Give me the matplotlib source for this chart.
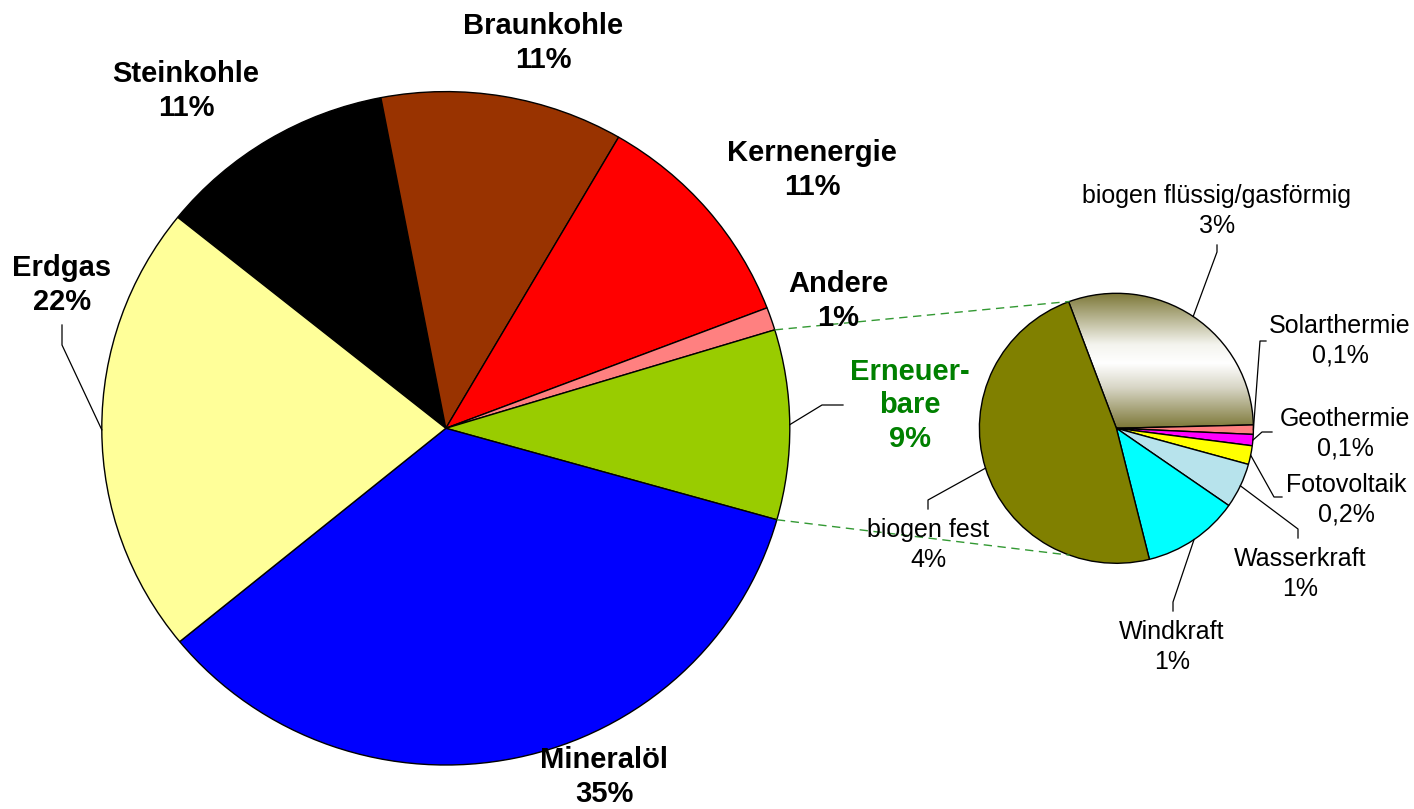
import numpy as np
import matplotlib.pyplot as plt
from matplotlib.colors import LinearSegmentedColormap

plt.rcParams["font.family"] = ["Liberation Sans", "DejaVu Sans"]

# main pie: primary energy consumption shares (%)
main_names = ["Steinkohle", "Braunkohle", "Kernenergie", "Andere", "Erneuerbare", "Mineralöl", "Erdgas"]
main_values = [11.2, 11.4, 10.8, 1.1, 9.1, 34.7, 21.7]
main_colors = ["#000000", "#993300", "#FF0000", "#FF8080", "#99CC00", "#0000FF", "#FFFF99"]

# secondary pie: breakdown of the renewables (%)
sub_names = ["biogen flüssig/gasförmig", "Solarthermie", "Geothermie", "Fotovoltaik",
             "Wasserkraft", "Windkraft", "biogen fest"]
sub_values = [2.7, 0.1, 0.12, 0.2, 0.48, 1.02, 4.3]
sub_pct = ["3%", "0,1%", "0,1%", "0,2%", "1%", "1%", "4%"]
sub_colors = ["#808000", "#FF8080", "#FF00FF", "#FFFF00", "#B7E3EC", "#00FFFF", "#808000"]

W, H = 1414, 809
fig = plt.figure(figsize=(W / 100, H / 100), dpi=100)

big_c, big_r = (445.8, 428.3), (344, 336.7)
sml_c, sml_r = (1116.4, 428.3), (137, 135)


def pie_axes(c, r):
    ax = fig.add_axes([(c[0] - r[0]) / W, (H - c[1] - r[1]) / H, 2 * r[0] / W, 2 * r[1] / H])
    return ax


def to_px(c, r, ang, k=1.0):
    a = np.deg2rad(ang)
    return c[0] + k * r[0] * np.cos(a), c[1] - k * r[1] * np.sin(a)


ax1 = pie_axes(big_c, big_r)
w1, _ = ax1.pie(main_values, colors=main_colors, startangle=141.2, counterclock=False,
                radius=1, wedgeprops=dict(edgecolor="black", linewidth=1))
ax1.set_aspect("auto")
ax1.set_xlim(-1, 1)
ax1.set_ylim(-1, 1)
ax1.axis("off")

ax2 = pie_axes(sml_c, sml_r)
w2, _ = ax2.pie(sub_values, colors=sub_colors, startangle=110.4, counterclock=False,
                radius=1, wedgeprops=dict(edgecolor="black", linewidth=1))
ax2.set_aspect("auto")
# gradient fill for biogen fluessig/gasfoermig
w2[0].set_facecolor("none")
cmap = LinearSegmentedColormap.from_list("olv", [(0, "#7d7838"), (0.3, "#d8d6c6"), (0.48, "#ffffff"),
                                                 (0.62, "#f4f4ee"), (1, "#7d7838")])
grad = np.linspace(0, 1, 256).reshape(-1, 1)
im = ax2.imshow(grad, cmap=cmap, extent=[-1, 1, 0, 1], origin="lower", aspect="auto", zorder=0)
im.set_clip_path(w2[0])
ax2.set_xlim(-1, 1)
ax2.set_ylim(-1, 1)
ax2.axis("off")

ov = fig.add_axes([0, 0, 1, 1])
ov.set_xlim(0, W)
ov.set_ylim(H, 0)
ov.axis("off")

# series lines between the renewables slice and the small pie
ern = w1[4]
for a_big, a_sml in [(ern.theta2, 110), (ern.theta1, 250)]:
    x0, y0 = to_px(big_c, big_r, a_big)
    x1, y1 = to_px(sml_c, sml_r, a_sml)
    ov.plot([x0, x1], [y0, y1], color="#339933", lw=1, ls=(0, (6, 4)))

# main labels: text position and optional leader elbow
main_pos = [(186, 91), (543, 43), (812, 170), (838, 301), (910, 405), (604, 777), (62, 285)]
main_elbow = {6: [(62, 345), (62, 325)], 4: [(822, 405), (843, 405)]}
for i, (name, v) in enumerate(zip(main_names, main_values)):
    txt = "Erneuer-\nbare\n9%" if name == "Erneuerbare" else f"{name}\n{v:.0f}%"
    col = "#008000" if name == "Erneuerbare" else "black"
    ov.text(*main_pos[i], txt, ha="center", va="center", fontsize=21, fontweight="bold",
            color=col, linespacing=1.25)
    if i in main_elbow:
        mid = (w1[i].theta1 + w1[i].theta2) / 2
        x0, y0 = to_px(big_c, big_r, mid)
        pts = [(x0, y0)] + main_elbow[i]
        ov.plot([p[0] for p in pts], [p[1] for p in pts], color="black", lw=0.9)

sub_pos = [(1217, 211), (1340, 341), (1345, 434), (1346, 500), (1300, 574), (1172, 647), (928, 545)]
sub_elbow = [[(1217, 252), (1217, 245)], [(1260, 341), (1266, 341)], [(1262, 432), (1272, 432)],
             [(1274, 497), (1282, 497)], [(1298, 529), (1298, 538)], [(1173, 602), (1173, 611)],
             [(928, 500), (928, 509)]]
for i, name in enumerate(sub_names):
    ov.text(*sub_pos[i], f"{name}\n{sub_pct[i]}", ha="center", va="center", fontsize=18,
            color="black", linespacing=1.3)
    mid = (w2[i].theta1 + w2[i].theta2) / 2
    x0, y0 = to_px(sml_c, sml_r, mid)
    pts = [(x0, y0)] + sub_elbow[i]
    ov.plot([p[0] for p in pts], [p[1] for p in pts], color="black", lw=0.9)

fig.savefig("out.png", dpi=100)
